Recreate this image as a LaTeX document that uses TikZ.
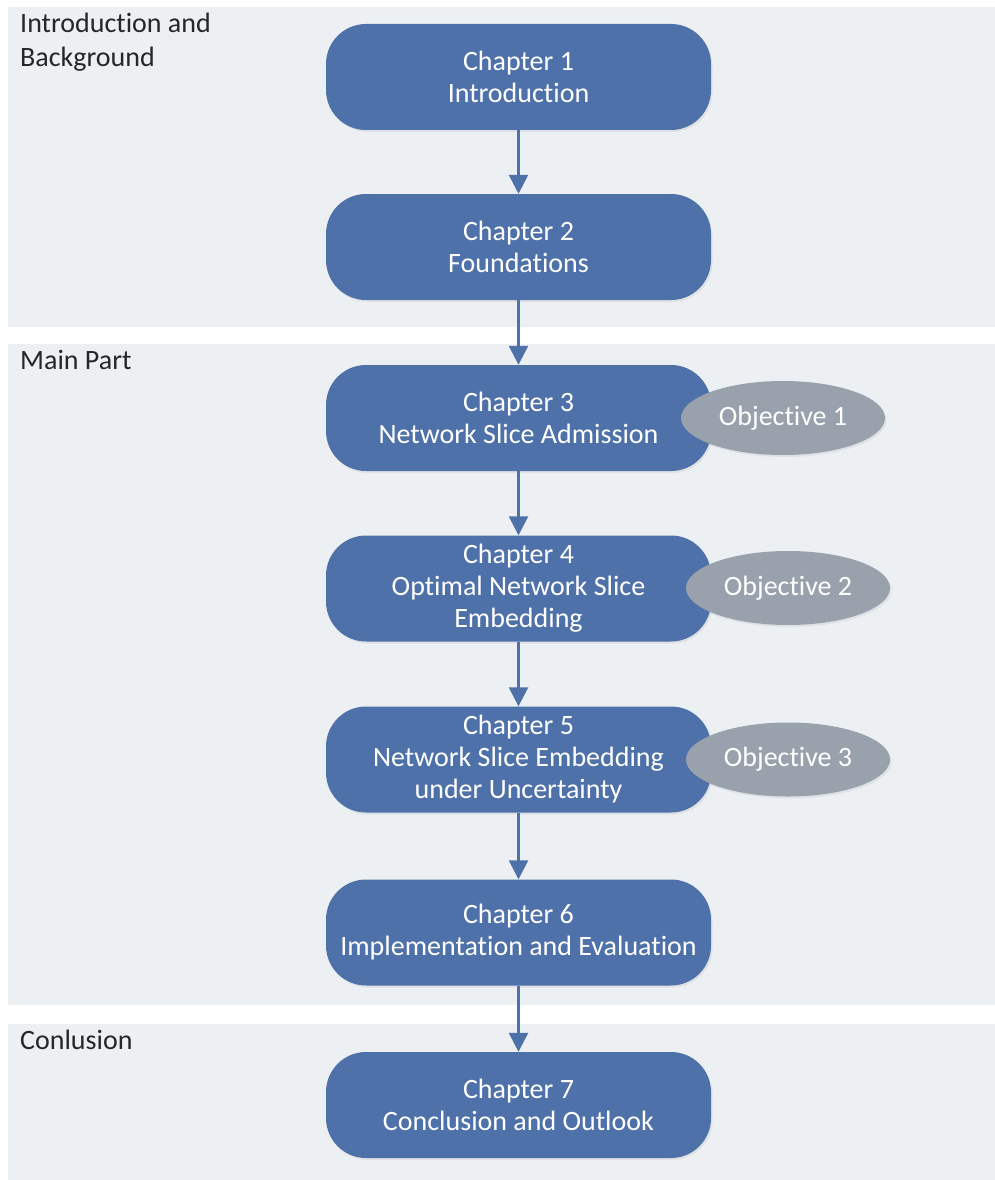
\documentclass[tikz,border=0pt]{standalone}
\usepackage{fontspec}
\setmainfont{Carlito}[Ligatures=CommonOff]
\usetikzlibrary{shapes.geometric,arrows.meta,shadows}

\definecolor{panelbg}{HTML}{ECF0F3}
\definecolor{chapblue}{HTML}{4F71A9}
\definecolor{objgray}{HTML}{98A1AC}
\definecolor{labeltext}{HTML}{262626}

\tikzset{
  panel/.style={fill=panelbg, draw=none},
  panellabel/.style={anchor=north west, inner sep=0pt, align=left, text=labeltext,
    font=\fontsize{28}{34}\selectfont},
  chapter/.style={rectangle, rounded corners=40pt, fill=chapblue, draw=none,
    minimum width=385pt, minimum height=106pt, inner sep=0pt, align=center,
    text=white, font=\fontsize{28}{32}\selectfont,
    drop shadow={opacity=0.12, shadow xshift=1.5pt, shadow yshift=-2pt}},
  objective/.style={ellipse, fill=objgray, draw=none, minimum width=204pt,
    minimum height=74pt, inner sep=0pt, text=white,
    font=\fontsize{28}{32}\selectfont,
    drop shadow={opacity=0.12, shadow xshift=1.5pt, shadow yshift=-2pt}},
  flow/.style={draw=chapblue, line width=2.6pt,
    -{Triangle[width=19pt,length=19pt]}},
}

\begin{document}
\begin{tikzpicture}[x=1pt,y=-1pt]
  \useasboundingbox (0,0) rectangle (995,1180);

  % section panels
  \path[panel] (8,7) rectangle (995,327);
  \path[panel] (8,344) rectangle (995,1005);
  \path[panel] (8,1024) rectangle (995,1180);

  \node[panellabel] (lintro) at (20,12.5) {Introduction and\\Background};
  \node[panellabel] (lmain) at (20,350) {Main Part};
  \node[panellabel] (lconc) at (20,1030) {Conlusion};

  % chapters
  \node[chapter] (c1) at (518.5,77)   {Chapter 1\\Introduction};
  \node[chapter] (c2) at (518.5,247)  {Chapter 2\\Foundations};
  \node[chapter] (c3) at (518.5,418)  {Chapter 3\\Network Slice Admission};
  \node[chapter] (c4) at (518.5,588.5){Chapter 4\\Optimal Network Slice\\Embedding};
  \node[chapter] (c5) at (518.5,759.5){Chapter 5\\Network Slice Embedding\\under Uncertainty};
  \node[chapter] (c6) at (518.5,932.5){Chapter 6\\Implementation and Evaluation};
  \node[chapter] (c7) at (518.5,1105) {Chapter 7\\Conclusion and Outlook};

  % objectives
  \node[objective] (o1) at (783,418) {Objective 1};
  \node[objective] (o2) at (788,588) {Objective 2};
  \node[objective] (o3) at (788,759.5) {Objective 3};

  % reading order
  \draw[flow] (c1.south) -- (c2.north);
  \draw[flow] (c2.south) -- (c3.north);
  \draw[flow] (c3.south) -- (c4.north);
  \draw[flow] (c4.south) -- (c5.north);
  \draw[flow] (c5.south) -- (c6.north);
  \draw[flow] (c6.south) -- (c7.north);
\end{tikzpicture}
\end{document}
